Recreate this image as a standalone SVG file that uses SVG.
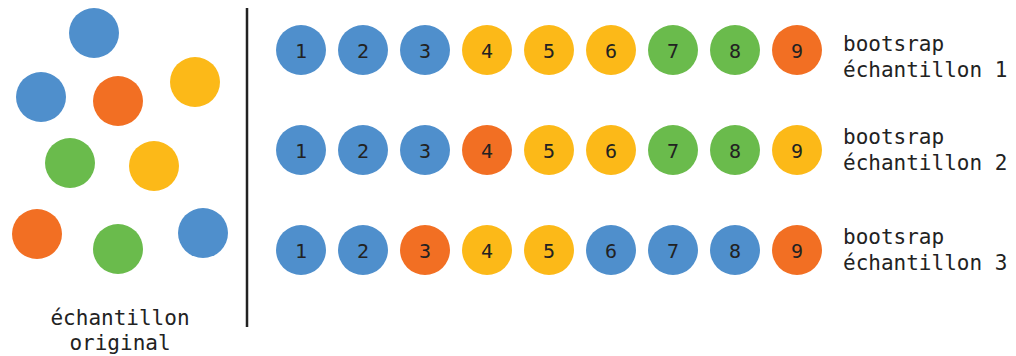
<svg xmlns="http://www.w3.org/2000/svg" width="1016" height="356" viewBox="0 0 1016 356">
<style>
.b{fill:#4F8FCC}.o{fill:#F26F23}.y{fill:#FCB918}.g{fill:#6ABB4C}
.n{font-family:"DejaVu Sans Mono","Liberation Mono",monospace;font-size:20px;fill:#222;text-anchor:middle;dominant-baseline:central}
.t{font-family:"DejaVu Sans Mono","Liberation Mono",monospace;font-size:21px;fill:#222}
</style>
<rect width="1016" height="356" fill="#fff"/>
<g id="original">
<circle class="b" cx="94" cy="33" r="25"/>
<circle class="b" cx="41" cy="97" r="25"/>
<circle class="o" cx="118" cy="101" r="25"/>
<circle class="y" cx="195" cy="82" r="25"/>
<circle class="g" cx="70" cy="163" r="25"/>
<circle class="y" cx="154" cy="166" r="25"/>
<circle class="o" cx="37" cy="234" r="25"/>
<circle class="g" cx="118" cy="249" r="25"/>
<circle class="b" cx="203" cy="233" r="25"/>
<text class="t" x="120" y="325" text-anchor="middle">échantillon</text>
<text class="t" x="120" y="350" text-anchor="middle">original</text>
</g>
<g id="divider"><line x1="247" y1="8" x2="247" y2="327" stroke="#222" stroke-width="2.5"/></g>
<g id="row1">
<circle class="b" cx="301" cy="50" r="25"/><text class="n" x="301" y="51">1</text>
<circle class="b" cx="363" cy="50" r="25"/><text class="n" x="363" y="51">2</text>
<circle class="b" cx="425" cy="50" r="25"/><text class="n" x="425" y="51">3</text>
<circle class="y" cx="487" cy="50" r="25"/><text class="n" x="487" y="51">4</text>
<circle class="y" cx="549" cy="50" r="25"/><text class="n" x="549" y="51">5</text>
<circle class="y" cx="611" cy="50" r="25"/><text class="n" x="611" y="51">6</text>
<circle class="g" cx="673" cy="50" r="25"/><text class="n" x="673" y="51">7</text>
<circle class="g" cx="735" cy="50" r="25"/><text class="n" x="735" y="51">8</text>
<circle class="o" cx="797" cy="50" r="25"/><text class="n" x="797" y="51">9</text>
<text class="t" x="843" y="51">bootsrap</text>
<text class="t" x="843" y="77">échantillon 1</text>
</g>
<g id="row2">
<circle class="b" cx="301" cy="150" r="25"/><text class="n" x="301" y="151">1</text>
<circle class="b" cx="363" cy="150" r="25"/><text class="n" x="363" y="151">2</text>
<circle class="b" cx="425" cy="150" r="25"/><text class="n" x="425" y="151">3</text>
<circle class="o" cx="487" cy="150" r="25"/><text class="n" x="487" y="151">4</text>
<circle class="y" cx="549" cy="150" r="25"/><text class="n" x="549" y="151">5</text>
<circle class="y" cx="611" cy="150" r="25"/><text class="n" x="611" y="151">6</text>
<circle class="g" cx="673" cy="150" r="25"/><text class="n" x="673" y="151">7</text>
<circle class="g" cx="735" cy="150" r="25"/><text class="n" x="735" y="151">8</text>
<circle class="y" cx="797" cy="150" r="25"/><text class="n" x="797" y="151">9</text>
<text class="t" x="843" y="144">bootsrap</text>
<text class="t" x="843" y="170">échantillon 2</text>
</g>
<g id="row3">
<circle class="b" cx="301" cy="250" r="25"/><text class="n" x="301" y="251">1</text>
<circle class="b" cx="363" cy="250" r="25"/><text class="n" x="363" y="251">2</text>
<circle class="o" cx="425" cy="250" r="25"/><text class="n" x="425" y="251">3</text>
<circle class="y" cx="487" cy="250" r="25"/><text class="n" x="487" y="251">4</text>
<circle class="y" cx="549" cy="250" r="25"/><text class="n" x="549" y="251">5</text>
<circle class="b" cx="611" cy="250" r="25"/><text class="n" x="611" y="251">6</text>
<circle class="b" cx="673" cy="250" r="25"/><text class="n" x="673" y="251">7</text>
<circle class="b" cx="735" cy="250" r="25"/><text class="n" x="735" y="251">8</text>
<circle class="o" cx="797" cy="250" r="25"/><text class="n" x="797" y="251">9</text>
<text class="t" x="843" y="244">bootsrap</text>
<text class="t" x="843" y="270">échantillon 3</text>
</g>
</svg>
